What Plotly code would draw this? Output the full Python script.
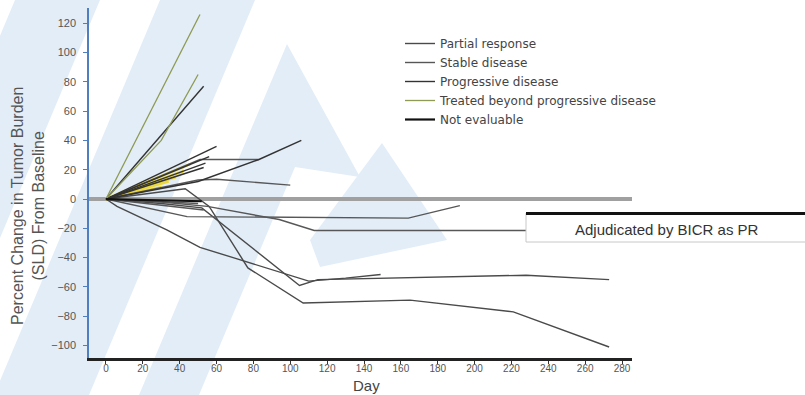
import plotly.graph_objects as go

W, H = 805, 395

# ---- tumour-burden trajectories (day, % change in SLD from baseline) ----
partial_response_days = [
    [0, 43, 56, 77, 107, 165, 221, 273],
    [0, 6, 33, 51, 69, 87, 110, 130, 149],
    [0, 30, 52, 105, 115, 160, 228, 273],
]
partial_response_pct = [
    [0, 7, -5, -47, -71, -69, -77, -101],
    [0, -5, -21, -33, -40, -47, -56, -54, -51.5],
    [0, -3, -6, -59, -55, -54, -52, -55],
]

stable_disease_days = [
    [0, 51, 83],
    [0, 50, 60, 100],
    [0, 44, 164, 192],
    [0, 30, 55, 94, 113, 228],
    [0, 53],
    [0, 50],
]
stable_disease_pct = [
    [0, 27, 27],
    [0, 13, 13.5, 9.5],
    [0, -12, -13, -4.5],
    [0, -2, -5, -14, -21.5, -21.5],
    [0, -7.5],
    [0, -3],
]

progressive_days = [
    [0, 53],
    [0, 60],
    [0, 56],
    [0, 54],
    [0, 50, 83, 106],
    [0, 53],
]
progressive_pct = [
    [0, 77],
    [0, 36],
    [0, 29],
    [0, 24.5],
    [0, 12, 27, 40],
    [0, 21.5],
]

beyond_pd_days = [
    [0, 51],
    [0, 30, 50],
]
beyond_pd_pct = [
    [0, 126],
    [0, 40, 85],
]

beyond_pd_early_days = [[0, 46], [0, 42], [0, 38], [0, 34], [0, 30]]
beyond_pd_early_pct = [[0, 24], [0, 19], [0, 15], [0, 12], [0, 8]]

not_evaluable_days = [[0, 52]]
not_evaluable_pct = [[0, -1.5]]

x_ticks = list(range(0, 281, 20))
y_ticks = list(range(-100, 121, 20))

fig = go.Figure()


def add_group(days_list, pct_list, name, color, width, show_first=True):
    for i, (d, p) in enumerate(zip(days_list, pct_list)):
        fig.add_trace(go.Scatter(
            x=d, y=p, mode="lines", name=name, legendgroup=name,
            showlegend=(show_first and i == 0),
            line=dict(color=color, width=width),
            hoverinfo="skip",
        ))


add_group(beyond_pd_early_days, beyond_pd_early_pct, "Treated beyond progressive disease",
          "#ecd83c", 2.6, show_first=False)
add_group(partial_response_days, partial_response_pct, "Partial response", "#4a4a4a", 1.4)
add_group(stable_disease_days, stable_disease_pct, "Stable disease", "#575757", 1.4)
add_group(progressive_days, progressive_pct, "Progressive disease", "#333333", 1.4)
add_group(beyond_pd_days, beyond_pd_pct, "Treated beyond progressive disease", "#8f9a52", 1.3)
add_group(not_evaluable_days, not_evaluable_pct, "Not evaluable", "#111111", 2.2)


def px(x):
    return x / W


def py(y):
    return 1 - y / H


def poly(points):
    return "M " + " L ".join(f"{px(a):.4f},{py(b):.4f}" for a, b in points) + " Z"


# faint background logo
wm = "#e2edf8"
watermark = [
    [(15, 0), (100, 0), (-66, 395), (-151, 395)],
    [(160, 0), (255, 0), (89, 395), (-6, 395)],
    [(287, 44), (360, 177), (295, 167), (199, 395), (139, 395)],
    [(382, 143), (447, 240), (320, 267), (310, 240)],
]
shapes = [
    dict(type="path", path=poly(p), xref="paper", yref="paper",
         fillcolor=wm, line=dict(width=0), layer="below")
    for p in watermark
]

# callout box for the BICR adjudication
shapes.append(dict(type="rect", xref="paper", yref="paper",
                   x0=px(526), x1=1.01, y0=py(242), y1=py(213),
                   fillcolor="white", line=dict(color="#c8c8c8", width=1), layer="above"))
shapes.append(dict(type="line", xref="paper", yref="paper",
                   x0=px(526), x1=1.0, y0=py(213.5), y1=py(213.5),
                   line=dict(color="#111111", width=3), layer="above"))

font = "Liberation Sans, Arial, sans-serif"

fig.update_layout(
    width=W, height=H,
    margin=dict(l=0, r=0, t=0, b=0),
    paper_bgcolor="white",
    plot_bgcolor="rgba(0,0,0,0)",
    font=dict(family=font, color="#444444"),
    shapes=shapes,
    showlegend=True,
    legend=dict(
        x=px(400), y=py(29), xanchor="left", yanchor="top",
        bgcolor="rgba(0,0,0,0)",
        font=dict(size=12, color="#444444", family="DejaVu Sans, sans-serif"),
        traceorder="normal", tracegroupgap=0,
    ),
    xaxis=dict(
        domain=[px(89), px(632)], range=[-9.2, 285.4],
        tickvals=x_ticks, showgrid=False, zeroline=False,
        showline=True, linecolor="#222222", linewidth=3,
        ticks="outside", ticklen=3, tickcolor="#333333",
        tickfont=dict(size=10, color="#555555"),
        ticklabelstandoff=-4,
    ),
    yaxis=dict(
        domain=[py(358), py(8)], range=[-108.5, 130.4],
        tickvals=y_ticks, showgrid=False,
        zeroline=True, zerolinecolor="#a0a0a0", zerolinewidth=4,
        showline=True, linecolor="#4f7fbf", linewidth=1.5,
        ticks="outside", ticklen=4, tickcolor="#4f7fbf",
        tickfont=dict(size=11, color="#555555"),
        ticklabelstandoff=5,
    ),
    annotations=[
        dict(text="Percent Change in Tumor Burden<br>(SLD) From Baseline",
             xref="paper", yref="paper", x=px(28), y=py(206),
             xanchor="center", yanchor="middle",
             textangle=-90, showarrow=False, font=dict(size=16, color="#555555")),
        dict(text="Day", xref="paper", yref="paper", x=px(366), y=py(385),
             xanchor="center", yanchor="middle",
             showarrow=False, font=dict(size=15, color="#444444")),
        dict(text="Adjudicated by BICR as PR", xref="paper", yref="paper",
             x=px(667), y=py(229), xanchor="center", yanchor="middle",
             showarrow=False, font=dict(size=15, color="#333333")),
    ],
)

fig.write_html("out.html")
